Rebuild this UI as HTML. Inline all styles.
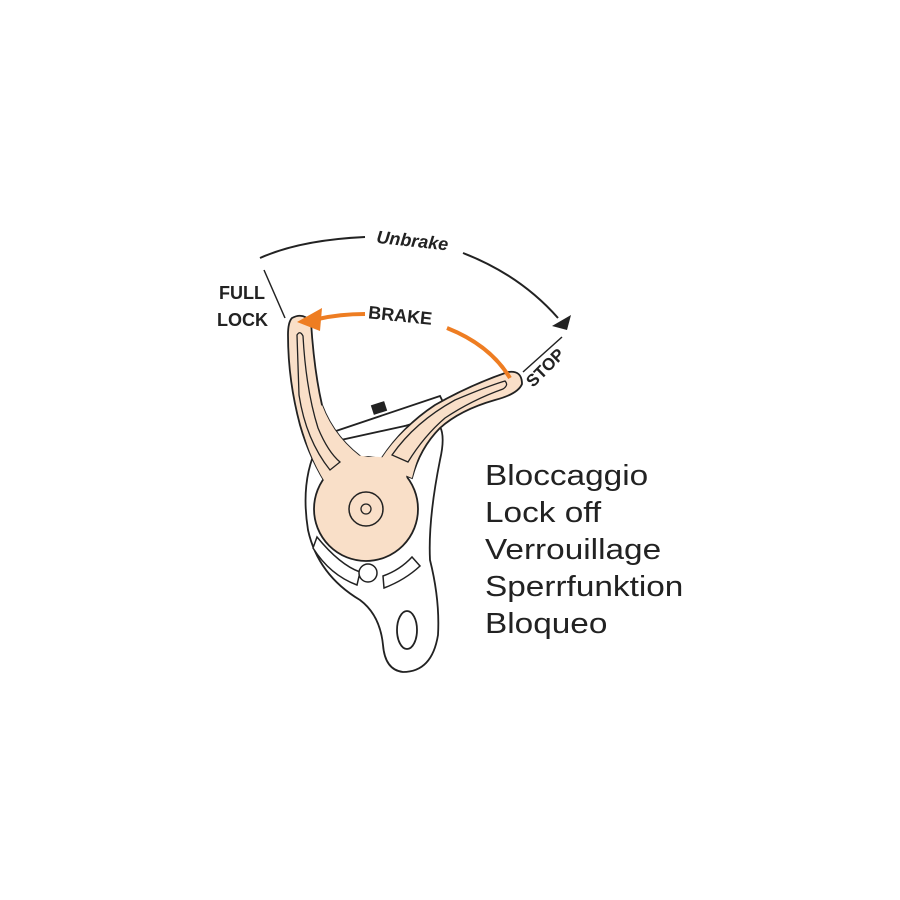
<!DOCTYPE html>
<html><head><meta charset="utf-8"><style>
html,body{margin:0;padding:0;background:#fff;}
svg{display:block;}
</style></head><body>
<svg width="900" height="900" viewBox="0 0 900 900" xmlns="http://www.w3.org/2000/svg" font-family="Liberation Sans, sans-serif">
<rect width="900" height="900" fill="#fff"/>
<path d="M260,258 Q300,240 365,237" fill="none" stroke="#222" stroke-width="2"/>
<path d="M463,253 Q520,275 558,318" fill="none" stroke="#222" stroke-width="2"/>
<polygon points="552,326 571,315 567,330" fill="#222"/>
<text x="376" y="247" font-size="18" font-weight="bold" font-style="italic" fill="#222" transform="rotate(6 415 245)">Unbrake</text>
<line x1="264" y1="270" x2="285" y2="318" stroke="#222" stroke-width="1.5"/>
<text x="219" y="299" font-size="18" font-weight="bold" fill="#222">FULL</text>
<text x="217" y="326" font-size="18" font-weight="bold" fill="#222">LOCK</text>
<line x1="523" y1="372" x2="562" y2="337" stroke="#222" stroke-width="1.5"/>
<text x="533" y="388" font-size="17" font-weight="bold" fill="#222" transform="rotate(-45 533 388)">STOP</text>
<!-- frame -->
<path d="M330,433 L440,396 L448,412 L338,448 Z" fill="#fff" stroke="#222" stroke-width="1.8"/>
<rect x="372" y="403" width="14" height="10" fill="#222" transform="rotate(-18 379 408)"/>
<path d="M318,445 L432,420 Q448,425 440,460 Q428,520 430,560 Q440,600 438,635 Q432,672 403,672 Q385,670 383,645 Q380,615 360,600 Q318,575 308,530 Q300,480 318,445 Z" fill="#fff" stroke="#222" stroke-width="1.8"/>
<ellipse cx="407" cy="630" rx="10" ry="19" fill="#fff" stroke="#222" stroke-width="1.8"/>
<path d="M317,537 Q340,565 360,572 L357,585 Q330,575 313,548 Z" fill="#fff" stroke="#222" stroke-width="1.5"/>
<path d="M412,557 Q400,570 383,576 L384,588 Q405,580 420,566 Z" fill="#fff" stroke="#222" stroke-width="1.5"/>
<circle cx="368" cy="573" r="9" fill="#fff" stroke="#222" stroke-width="1.5"/>
<!-- lever arms -->
<path d="M292,318 Q303,312 311,322 Q314,370 322,405 Q335,440 368,462 L330,490 Q310,460 300,425 Q288,380 288,335 Q288,322 292,318 Z" fill="#f9dfc8" stroke="#222" stroke-width="1.8"/>
<path d="M378,464 Q400,428 435,405 Q470,385 508,372 Q522,370 522,384 Q518,394 495,400 Q460,410 440,428 Q420,448 412,478 Z" fill="#f9dfc8" stroke="#222" stroke-width="1.8"/>
<circle cx="366" cy="509" r="52" fill="#f9dfc8" stroke="#222" stroke-width="1.8"/>
<path d="M330,466 Q350,452 368,457 Q395,455 405,470 L408,485 L325,485 Z" fill="#f9dfc8"/>
<path d="M322,405 Q335,440 368,462 L330,490 Q310,460 303,430 Z" fill="#f9dfc8"/>
<path d="M378,464 Q400,428 435,408 L430,435 Q418,452 412,478 Z" fill="#f9dfc8"/>
<!-- slots -->
<path d="M297,335 Q300,330 303,336 Q306,390 318,428 Q328,452 340,462 L330,470 Q306,440 299,395 Z" fill="none" stroke="#222" stroke-width="1.3"/>
<path d="M392,455 Q415,422 455,400 Q488,386 505,381 Q509,385 503,389 Q472,400 445,418 Q424,436 408,462 Z" fill="none" stroke="#222" stroke-width="1.3"/>
<circle cx="366" cy="509" r="17" fill="none" stroke="#222" stroke-width="1.5"/>
<circle cx="366" cy="509" r="5" fill="none" stroke="#222" stroke-width="1.3"/>
<!-- brake arrow -->
<path d="M510,378 Q490,345 447,328" fill="none" stroke="#ee7d22" stroke-width="4"/>
<path d="M365,314 Q340,314 318,319" fill="none" stroke="#ee7d22" stroke-width="4"/>
<polygon points="297,322 322,308 320,331" fill="#ee7d22"/>
<text x="368" y="322" font-size="18" font-weight="bold" fill="#222" transform="rotate(6 404 318)">BRAKE</text>
<g font-size="29" fill="#222" transform="translate(485 0) scale(1.15 1) translate(-485 0)">
<text x="485" y="485">Bloccaggio</text>
<text x="485" y="522">Lock off</text>
<text x="485" y="559">Verrouillage</text>
<text x="485" y="596">Sperrfunktion</text>
<text x="485" y="633">Bloqueo</text>
</g>
</svg>
</body></html>
